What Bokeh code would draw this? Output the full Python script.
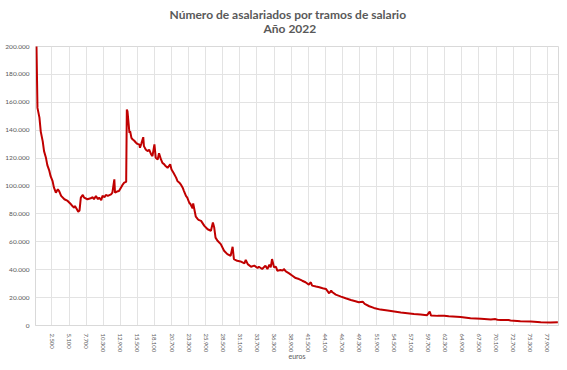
from bokeh.plotting import figure
from bokeh.models import Title, FixedTicker, Range1d
from bokeh.embed import file_html
from bokeh.resources import INLINE

# Salary bracket (euros) and number of wage earners
salary = [100, 300, 600, 800, 1100, 1300, 1600, 1800, 2100, 2300, 2600, 2800, 3100, 3400, 3600,
          3900, 4400, 4900, 5400, 5600, 5900, 6000, 6300, 6500, 6700, 6900, 7200, 7400, 7900, 8400,
          8700, 8900, 9200, 9500, 9700, 10000, 10200, 10500, 10700, 11000, 11500, 11700, 12000, 12100,
          12400, 12700, 13000, 13300, 13500, 13800, 13900, 14000, 14300, 14400, 14600, 14800, 15000,
          15300, 15500, 15800, 15900, 16100, 16400, 16500, 16800, 17100, 17300, 17600, 17800, 18100,
          18300, 18600, 18800, 19100, 19300, 19600, 19800, 20100, 20300, 20500, 20700, 21000, 21400,
          21600, 21900, 22100, 22400, 22600, 22900, 23100, 23400, 23600, 23900, 24000, 24400, 24700,
          24900, 25200, 25700, 26200, 26700, 27000, 27200, 27400, 27700, 28200, 28700, 29200, 29700,
          30000, 30200, 30700, 31200, 31800, 32000, 32300, 32800, 33300, 33800, 34000, 34500, 35000,
          35300, 35600, 35800, 36000, 36300, 36600, 36800, 37300, 37600, 37800, 38100, 38600, 39100,
          39600, 40100, 40600, 41100, 41600, 41900, 42100, 42700, 43200, 43700, 44200, 44700, 45000,
          45200, 45700, 46500, 47200, 48000, 48700, 49200, 49800, 50100, 50800, 51500, 52500, 53600,
          54600, 55600, 56600, 57600, 58600, 59600, 60000, 60200, 61200, 62200, 62900, 64700, 66200,
          67800, 69300, 70000, 70300, 70800, 72000, 72300, 73800, 75400, 76900, 78400, 79500]

workers = [215000, 156000, 149000, 139000, 132000, 125000, 120000, 115000, 111000, 107000, 103500,
           99000, 95200, 97600, 96400, 92900, 90500, 89300, 86900, 85700, 84500, 85700, 83300, 81600,
           82500, 91700, 93600, 91700, 90500, 91200, 92000, 90500, 92900, 90500, 91700, 89800, 92900,
           92000, 93600, 92900, 94000, 95200, 104800, 95200, 96000, 96400, 98800, 101200, 102400,
           103000, 154800, 153500, 138000, 139300, 134500, 133300, 132600, 131000, 130200, 129800,
           127400, 130200, 135000, 128600, 126000, 125000, 126000, 122600, 121400, 129800, 120200,
           119000, 123500, 119000, 116700, 115500, 114300, 113000, 114300, 115500, 111900, 109500,
           106000, 103600, 102400, 101200, 98800, 96400, 92900, 91700, 88000, 86900, 84000, 87500,
           78000, 76200, 75500, 75000, 71400, 69000, 67900, 73800, 70200, 63000, 60700, 58300, 53600,
           51200, 50000, 56400, 47600, 46400, 45900, 44500, 47100, 44000, 42100, 42900, 41200, 42100,
           40500, 42900, 40500, 43600, 41700, 47600, 41700, 42100, 39300, 39800, 39300, 40500, 38800,
           37400, 35700, 34000, 33300, 32100, 31000, 29300, 31000, 28600, 27900, 27400, 26700, 26200,
           23100, 25000, 23800, 22100, 20700, 19500, 18300, 17400, 16700, 17100, 15500, 13800, 12600,
           11400, 10700, 10000, 9300, 8800, 8300, 7900, 7400, 10000, 7100, 6900, 7000, 6700, 6100,
           5200, 4800, 4300, 4600, 4100, 4000, 3900, 3600, 3100, 2900, 2400, 2100, 2400]

x_ticks = [2500, 5100, 7700, 10300, 12900, 15500, 18100, 20700, 23300, 25900, 28500, 31100, 33700,
           36300, 38900, 41500, 44100, 46700, 49300, 51900, 54500, 57100, 59700, 62300, 64900, 67500,
           70100, 72700, 75300, 77900]
x_tick_labels = ["2.500", "5.100", "7.700", "10.300", "12.900", "15.500", "18.100", "20.700",
                 "23.300", "25.900", "28.500", "31.100", "33.700", "36.300", "38.900", "41.500",
                 "44.100", "46.700", "49.300", "51.900", "54.500", "57.100", "59.700", "62.300",
                 "64.900", "67.500", "70.100", "72.700", "75.300", "77.900"]
y_ticks = [0, 20000, 40000, 60000, 80000, 100000, 120000, 140000, 160000, 180000, 200000]
y_tick_labels = ["0", "20.000", "40.000", "60.000", "80.000", "100.000", "120.000", "140.000",
                 "160.000", "180.000", "200.000"]

title_text = "Número de asalariados  por tramos de salario"
subtitle_text = "Año 2022"
x_title = "euros"

FONT = "Lato"
GRAY = "#595959"

p = figure(width=567, height=370, output_backend="svg", toolbar_location=None,
           x_range=Range1d(0, 79600), y_range=Range1d(0, 200000),
           min_border_left=35, min_border_right=9, min_border_top=46, min_border_bottom=45,
           title=None)

p.add_layout(Title(text=subtitle_text, align="left", offset=228, text_font=FONT,
                   text_font_size="12px", text_font_style="bold", text_color=GRAY,
                   standoff=21), "above")
p.add_layout(Title(text=title_text, align="left", offset=134, text_font=FONT,
                   text_font_size="12px", text_font_style="bold", text_color=GRAY,
                   standoff=-27), "above")

p.line(salary, workers, line_color="#c00000", line_width=2)

p.outline_line_color = "#d9d9d9"
p.background_fill_color = "white"

p.xaxis.ticker = FixedTicker(ticks=x_ticks)
p.xaxis.major_label_overrides = dict(zip(x_ticks, x_tick_labels))
p.xaxis.major_label_orientation = "vertical"
p.xaxis.major_label_text_font = FONT
p.xaxis.major_label_text_font_size = "6px"
p.xaxis.major_label_text_color = GRAY
p.xaxis.major_label_standoff = 8
p.xaxis.axis_label = x_title
p.xaxis.axis_label_text_font = FONT
p.xaxis.axis_label_text_font_size = "7px"
p.xaxis.axis_label_text_font_style = "normal"
p.xaxis.axis_label_text_color = GRAY
p.xaxis.axis_label_standoff = -3
p.xaxis.axis_line_color = "#d9d9d9"
p.xaxis.major_tick_line_color = None
p.xaxis.minor_tick_line_color = None
p.xaxis.major_tick_out = 0
p.xaxis.minor_tick_out = 0

p.yaxis.ticker = FixedTicker(ticks=y_ticks)
p.yaxis.major_label_overrides = dict(zip(y_ticks, y_tick_labels))
p.yaxis.major_label_text_font = FONT
p.yaxis.major_label_text_font_size = "6.5px"
p.yaxis.major_label_text_color = GRAY
p.yaxis.major_label_standoff = 6
p.yaxis.axis_line_color = None
p.yaxis.major_tick_line_color = None
p.yaxis.minor_tick_line_color = None
p.yaxis.major_tick_out = 0
p.yaxis.minor_tick_out = 0

p.xgrid.grid_line_color = "#e3e3e3"
p.ygrid.grid_line_color = "#e3e3e3"

open("out.html", "w").write(file_html(p, INLINE))
